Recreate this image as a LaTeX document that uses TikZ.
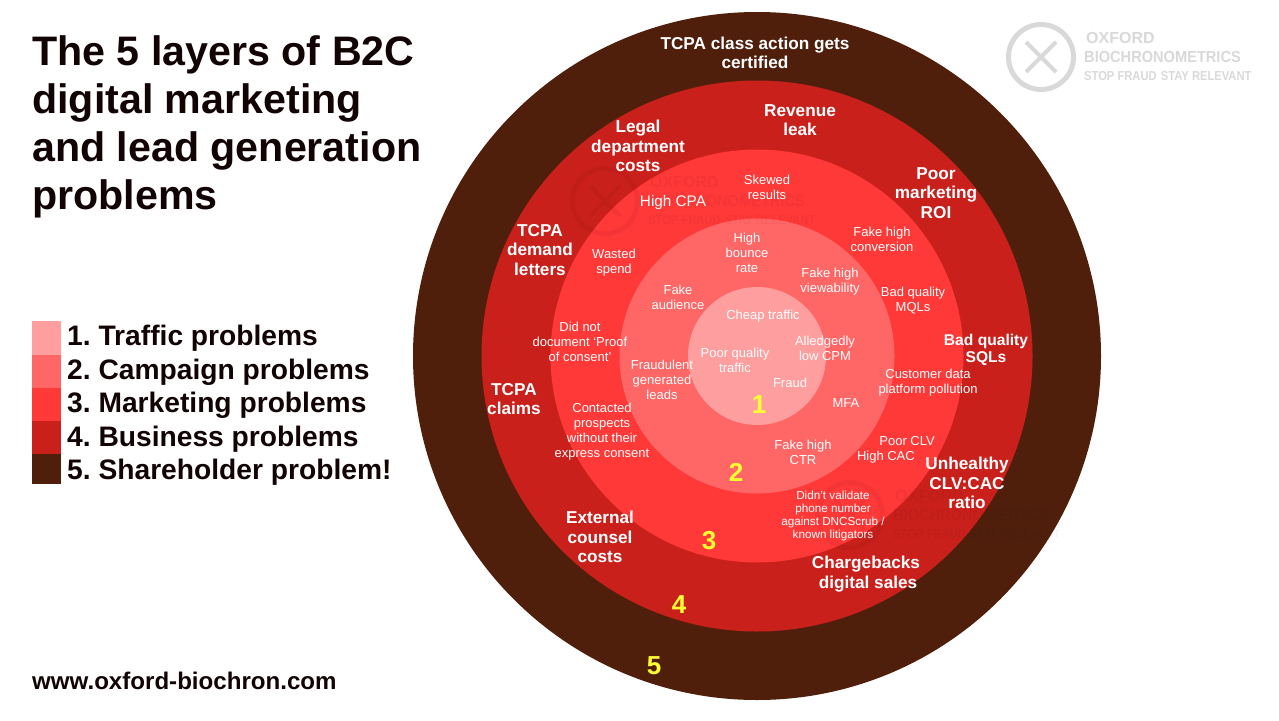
\documentclass[tikz,border=0pt]{standalone}
\usepackage{fontspec}
\setmainfont{Liberation Sans}
\frenchspacing
\definecolor{layerA}{HTML}{FF9E9E}
\definecolor{layerB}{HTML}{FF6666}
\definecolor{layerC}{HTML}{FF3838}
\definecolor{layerD}{HTML}{C9201C}
\definecolor{layerE}{HTML}{4F1F0C}
\definecolor{ink}{HTML}{120404}
\definecolor{logogrey}{HTML}{D9D9D9}
\definecolor{marknum}{HTML}{FFFF33}
\tikzset{
  x=1pt,y=-1pt,
  ring/.style={circle,draw=none,inner sep=0,minimum size=#1},
  small/.style={text=white,align=center,font=\fontsize{13}{15}\selectfont,inner sep=0},
  big/.style={text=white,align=center,font=\fontsize{17.2}{19.6}\selectfont\bfseries,inner sep=0},
  tiny/.style={text=white,align=center,font=\fontsize{11.7}{13}\selectfont,inner sep=0},
  num/.style={text=marknum,font=\fontsize{26}{28}\selectfont\bfseries,inner sep=0},
  swatch/.style={draw=none,minimum width=29pt,minimum height=33.3pt,inner sep=0,anchor=north west},
  legend/.style={text=ink,font=\fontsize{28.2}{32}\selectfont\bfseries,anchor=west,inner sep=0},
  logotext/.style={anchor=west,inner sep=0,text=logogrey},
  logoA/.style={logotext,font=\fontsize{16}{17}\selectfont\bfseries},
  logoB/.style={logotext,font=\fontsize{13}{14}\selectfont\bfseries}
}
\newcommand{\logomark}[5]{% x, y, scale, colour, name prefix
  \begin{scope}[shift={(#1,#2)},scale=#3]
    \node[circle,draw=#4,line width=5pt*#3,minimum size=65pt*#3,inner sep=0] (#5ring) at (0,0) {};
    \draw[#4,line width=4pt*#3] (-15,-15) -- (15,15) (-15,15) -- (15,-15);
  \end{scope}
}
% Three-line company wordmark, anchored at the left of its middle line
\newcommand{\wordmark}[4]{% x, y, colour, name prefix
  \node[logoA,text=#3] (#41) at (#1+2,#2-19) {OXFORD};
  \node[logoA,text=#3] (#42) at (#1,#2) {\scalebox{0.913}[1]{BIOCHRONOMETRICS}};
  \node[logoB,text=#3] (#43) at (#1,#2+19) {\scalebox{0.86}[1]{STOP FRAUD\hspace{5pt}STAY RELEVANT}};
}
\begin{document}
\begin{tikzpicture}
\useasboundingbox (0,0) rectangle (1279,720);
\fill[white] (0,0) rectangle (1279,720);

% Concentric layers
\node[ring=688pt,fill=layerE] (r5) at (757,356) {};
\node[ring=551pt,fill=layerD] (r4) at (757,356) {};
\node[ring=413pt,fill=layerC] (r3) at (757,356) {};
\node[ring=275pt,fill=layerB] (r2) at (757,356) {};
\node[ring=138pt,fill=layerA] (r1) at (757,356) {};

% Faint company marks behind the text
\begin{scope}[opacity=0.04]
  \logomark{605}{201}{1}{black}{wa}
  \wordmark{648}{201}{black}{wa}
  \logomark{850}{515}{1}{black}{wb}
  \wordmark{893}{515}{black}{wb}
\end{scope}

% Logo, top right
\logomark{1041}{57}{1}{logogrey}{lg}
\wordmark{1084}{57}{logogrey}{lg}

% Heading
\node[anchor=north west,inner sep=0,align=left,text=ink,
      font=\fontsize{41.2}{48.2}\selectfont\bfseries] (title) at (32,35)
  {The 5 layers of B2C\\digital marketing\\and lead generation\\problems};

% Legend
\node[swatch,fill=layerA] (s1) at (32,321) {};
\node[swatch,fill=layerB] (s2) at (32,354.3) {};
\node[swatch,fill=layerC] (s3) at (32,387.6) {};
\node[swatch,fill=layerD] (s4) at (32,420.9) {};
\node[swatch,fill=layerE,minimum height=29.8pt] (s5) at (32,454.2) {};
\node[legend] (l1) at (67,338) {1. Traffic problems};
\node[legend] (l2) at (67,372) {2. Campaign problems};
\node[legend] (l3) at (67,405) {3. Marketing problems};
\node[legend] (l4) at (67,439) {4. Business problems};
\node[legend] (l5) at (67,472) {5. Shareholder problem!};

\node[anchor=west,inner sep=0,text=ink,font=\fontsize{24.1}{28}\selectfont\bfseries] (url) at (32,680.5) {www.oxford-biochron.com};

% Shareholder and business labels
\node[big] (a1) at (755,53) {TCPA class action gets\\certified};
\node[big] (a2) at (800,120) {Revenue\\leak};
\node[big] (a3) at (638,146) {Legal\\department\\costs};
\node[big] (a4) at (936,193) {Poor\\marketing\\ROI};
\node[big] (a5) at (540,250) {TCPA\\demand\\letters};
\node[big,font=\fontsize{15.6}{17}\selectfont\bfseries] (a6) at (986,350) {Bad quality\\SQLs};
\node[big] (a7) at (514,399) {TCPA\\claims};
\node[big] (a8) at (967,483) {Unhealthy\\CLV:CAC\\ratio};
\node[big] (a9) at (600,537) {External\\counsel\\costs};
\node[big] (a10) at (866,574) {Chargebacks\\\hspace*{4pt}digital sales};

% Marketing labels
\node[small] (b1) at (767,187) {Skewed\\results};
\node[small,font=\fontsize{15.3}{18}\selectfont] (b2) at (673,203) {High CPA};
\node[small] (b3) at (882,239) {Fake high\\conversion};
\node[small] (b4) at (614,263) {Wasted\\spend};
\node[small] (b5) at (913,300.5) {Bad quality\\MQLs};
\node[small] (b6) at (580,342) {Did not\\document ‘Proof\\of consent’};
\node[small] (b7) at (928,382.5) {Customer data\\platform pollution};
\node[small] (b8) at (602,432) {Contacted\\prospects\\without their\\express consent};
\node[small,anchor=east] (b9a) at (935,441) {Poor CLV};
\node[small,anchor=east] (b9b) at (915,457) {High CAC};
\node[tiny] (b10) at (833,515.5) {Didn’t validate\\phone number\\against DNCScrub /\\known litigators};

% Campaign labels
\node[small] (c1) at (747,253) {High\\bounce\\rate};
\node[small] (c2) at (830,282) {Fake high\\viewability};
\node[small] (c3) at (678,297.5) {Fake\\audience};
\node[small] (c4) at (662,379.5) {Fraudulent\\generated\\leads};
\node[small] (c5) at (846,403.5) {MFA};
\node[small] (c6) at (803,452) {Fake high\\CTR};

% Traffic labels
\node[small] (d1) at (763,316.5) {Cheap traffic};
\node[small] (d2) at (735,360.5) {Poor quality\\traffic};
\node[small] (d3) at (825,348) {Alledgedly\\low CPM};
\node[small] (d4) at (790,383) {Fraud};

% Layer numbers
\node[num] (n1) at (759,405) {1};
\node[num] (n2) at (736,472) {2};
\node[num] (n3) at (709,541) {3};
\node[num] (n4) at (679,605) {4};
\node[num] (n5) at (654,666) {5};
\end{tikzpicture}
\end{document}
